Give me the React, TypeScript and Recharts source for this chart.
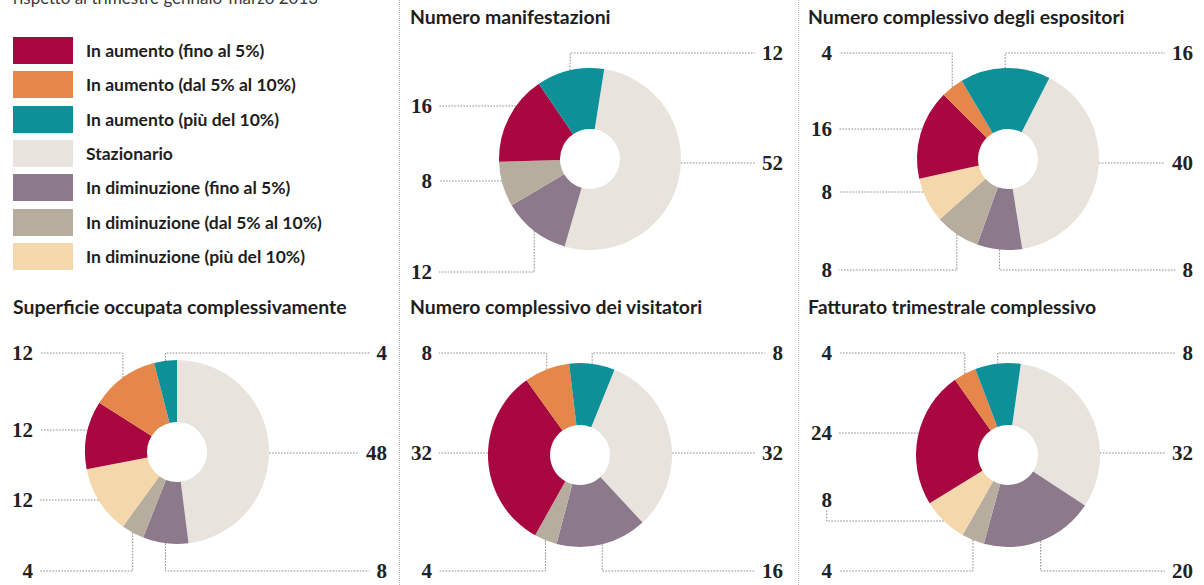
import React from "react";
import { PieChart, Pie, Cell } from "recharts";

// legend order
const categories = [
  "In aumento (fino al 5%)",
  "In aumento (dal 5% al 10%)",
  "In aumento (più del 10%)",
  "Stazionario",
  "In diminuzione (fino al 5%)",
  "In diminuzione (dal 5% al 10%)",
  "In diminuzione (più del 10%)",
];
const colors = ["#a8083f", "#e5874b", "#0e9099", "#e8e3dc", "#8c7a8c", "#b7ad9f", "#f4d8ac"];

// values in legend order
const manifestazioni = [16, 0, 12, 52, 12, 8, 0];
const espositori = [16, 4, 16, 40, 8, 8, 8];
const superficie = [12, 12, 4, 48, 8, 4, 12];
const visitatori = [32, 8, 8, 32, 16, 4, 0];
const fatturato = [24, 4, 8, 32, 20, 4, 8];

// slices go clockwise starting from "Stazionario"
const pieOrder = [3, 4, 5, 6, 0, 1, 2];

type Leader = { side: "L" | "R"; y: number; labelY?: number };

const panels = [
  {
    title: "Numero manifestazioni", values: manifestazioni, x: 400, y: 0, h: 290, tx: 10,
    cx: 190, cy: 159, r: 91, start: 9, leftX: 32, rightX: 383,
    leaders: { 2: { side: "R", y: 53 }, 3: { side: "R", y: 163 }, 0: { side: "L", y: 106 }, 5: { side: "L", y: 181 }, 4: { side: "L", y: 272 } } as Record<number, Leader>,
  },
  {
    title: "Numero complessivo degli espositori", values: espositori, x: 800, y: 0, h: 290, tx: 8,
    cx: 208, cy: 159, r: 91, start: 27, leftX: 32, rightX: 393,
    leaders: { 2: { side: "R", y: 53 }, 3: { side: "R", y: 163 }, 4: { side: "R", y: 270 }, 1: { side: "L", y: 53 }, 0: { side: "L", y: 129 }, 6: { side: "L", y: 192 }, 5: { side: "L", y: 270 } } as Record<number, Leader>,
  },
  {
    title: "Superficie occupata complessivamente", values: superficie, x: 0, y: 290, h: 295, tx: 13,
    cx: 177, cy: 162, r: 92, start: 0, leftX: 33, rightX: 387,
    leaders: { 1: { side: "L", y: 63 }, 0: { side: "L", y: 140 }, 6: { side: "L", y: 210 }, 5: { side: "L", y: 281 }, 2: { side: "R", y: 63 }, 3: { side: "R", y: 163 }, 4: { side: "R", y: 281 } } as Record<number, Leader>,
  },
  {
    title: "Numero complessivo dei visitatori", values: visitatori, x: 400, y: 290, h: 295, tx: 10,
    cx: 180, cy: 165, r: 92, start: 22, leftX: 32, rightX: 383,
    leaders: { 1: { side: "L", y: 63 }, 0: { side: "L", y: 163 }, 5: { side: "L", y: 281 }, 2: { side: "R", y: 63 }, 3: { side: "R", y: 163 }, 4: { side: "R", y: 281 } } as Record<number, Leader>,
  },
  {
    title: "Fatturato trimestrale complessivo", values: fatturato, x: 800, y: 290, h: 295, tx: 8,
    cx: 208, cy: 165, r: 92, start: 8, leftX: 32, rightX: 393,
    leaders: { 1: { side: "L", y: 63 }, 0: { side: "L", y: 143 }, 6: { side: "L", y: 231, labelY: 210 }, 5: { side: "L", y: 281 }, 2: { side: "R", y: 63 }, 3: { side: "R", y: 163 }, 4: { side: "R", y: 281 } } as Record<number, Leader>,
  },
];

const serif = "'Liberation Serif', 'DejaVu Serif', serif";
const sans = "Lato, 'Open Sans', sans-serif";
const dots = { stroke: "#8d8d8d", strokeWidth: 1, strokeDasharray: "1.6 1.4", fill: "none" };

function makeLabel(items: { cat: number; value: number }[], leaders: Record<number, Leader>, leftX: number, rightX: number) {
  return (p: any) => {
    const item = items[p.index];
    const lead = item && leaders[item.cat];
    if (!lead) return null;
    const { cx, cy, outerRadius: R } = p;
    const text = String(item.value);
    const tw = text.length * 10.6;
    const lo = Math.min(p.startAngle, p.endAngle);
    const hi = Math.max(p.startAngle, p.endAngle);
    const raised = lead.labelY != null;
    const colX = lead.side === "L" ? (raised ? leftX - tw / 2 : leftX + 7) : rightX - tw - 7;

    let pts: number[][] = [];
    const dy = lead.y - cy;
    if (Math.abs(dy) < R) {
      const hx = cx + (lead.side === "L" ? -1 : 1) * Math.sqrt(R * R - dy * dy);
      let a = (Math.atan2(-dy, hx - cx) * 180) / Math.PI;
      while (a < lo) a += 360;
      while (a > lo + 360) a -= 360;
      if (a <= hi) pts = [[hx, lead.y], [colX, lead.y]];
    }
    if (!pts.length) {
      const m = (p.midAngle * Math.PI) / 180;
      const mx = cx + R * Math.cos(m);
      const my = cy - R * Math.sin(m);
      pts = [[mx, my], [mx, lead.y], [colX, lead.y]];
    }
    if (raised) pts.push([colX, (lead.labelY as number) + 10]);

    const ty = raised ? (lead.labelY as number) : lead.y;
    return (
      <g key={`lbl-${p.index}`}>
        <polyline points={pts.map((q) => q.join(",")).join(" ")} {...dots} />
        <text
          x={lead.side === "L" ? leftX : rightX}
          y={ty}
          textAnchor="end"
          dominantBaseline="central"
          fontFamily={serif}
          fontWeight="bold"
          fontSize={21}
          fill="#222"
        >
          {text}
        </text>
      </g>
    );
  };
}

function Donut({ panel }: { panel: (typeof panels)[number] }) {
  const items = pieOrder
    .map((cat) => ({ cat, name: categories[cat], value: panel.values[cat] }))
    .filter((d) => d.value > 0);
  return (
    <div style={{ position: "absolute", left: panel.x, top: panel.y, width: 400, height: panel.h }}>
      <div
        style={{
          position: "absolute", left: panel.tx, top: 7, fontFamily: sans, fontWeight: 700,
          fontSize: 19.4, lineHeight: 1, color: "#1e1e1e", whiteSpace: "nowrap",
        }}
      >
        {panel.title}
      </div>
      <PieChart width={400} height={panel.h} margin={{ top: 0, right: 0, bottom: 0, left: 0 }} style={{ position: "absolute", left: 0, top: 0 }}>
        <Pie
          data={items}
          dataKey="value"
          nameKey="name"
          cx={panel.cx}
          cy={panel.cy}
          innerRadius={30}
          outerRadius={panel.r}
          startAngle={90 - panel.start}
          endAngle={90 - panel.start - 360}
          stroke="none"
          labelLine={false}
          label={makeLabel(items, panel.leaders, panel.leftX, panel.rightX)}
          isAnimationActive={false}
        >
          {items.map((d) => (
            <Cell key={d.cat} fill={colors[d.cat]} />
          ))}
        </Pie>
      </PieChart>
    </div>
  );
}

export default function App() {
  return (
    <div style={{ position: "relative", width: 1204, height: 585, overflow: "hidden", background: "#fff" }}>
      <style>{"body{margin:0}"}</style>
      <div
        style={{
          position: "absolute", left: 13, top: -12, fontFamily: sans, fontSize: 17,
          lineHeight: 1, color: "#3a3a3a", whiteSpace: "nowrap",
        }}
      >
        rispetto al trimestre gennaio-marzo 2013<sup style={{ fontSize: 10 }}>*</sup>
      </div>
      {categories.map((c, i) => (
        <div
          key={c}
          style={{ position: "absolute", left: 13, top: 37 + i * 34.3, height: 27, display: "flex", alignItems: "center" }}
        >
          <div style={{ width: 60, height: 27, background: colors[i] }} />
          <span
            style={{
              marginLeft: 13, fontFamily: sans, fontWeight: 700, fontSize: 17.5,
              color: "#1e1e1e", whiteSpace: "nowrap",
            }}
          >
            {c}
          </span>
        </div>
      ))}
      <div style={{ position: "absolute", left: 399, top: 0, height: 585, borderLeft: "1px dotted #b5b5b5" }} />
      <div style={{ position: "absolute", left: 798, top: 0, height: 585, borderLeft: "1px dotted #b5b5b5" }} />
      {panels.map((p) => (
        <Donut key={p.title} panel={p} />
      ))}
    </div>
  );
}
